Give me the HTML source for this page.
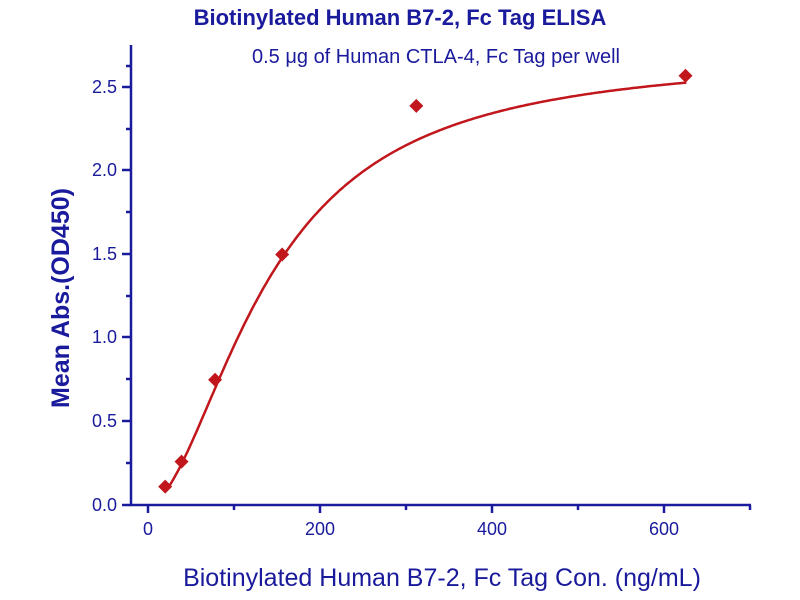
<!DOCTYPE html>
<html><head><style>body{margin:0;background:#fff}svg{display:block}</style></head>
<body>
<svg id="s" width="800" height="600" xmlns="http://www.w3.org/2000/svg" font-family="Liberation Sans, sans-serif">
<text x="400" y="25" text-anchor="middle" font-size="22" font-weight="bold" fill="#1a1a9c">Biotinylated Human B7-2, Fc Tag ELISA</text>
<text x="436" y="63" text-anchor="middle" font-size="20" fill="#1a1a9c">0.5 μg of Human CTLA-4, Fc Tag per well</text>
<g stroke="#1a1a9c" stroke-width="2.5" fill="none">
<path d="M131,45 V505 H751"/>
<path d="M122,505H131M122,421H131M122,337H131M122,254H131M122,170H131M122,87H131"/>
<path d="M126,463H131M126,379H131M126,296H131M126,212H131M126,129H131M126,66H131"/>
<path d="M148,505V513M320,505V513M492,505V513M664,505V513"/>
<path d="M234,505V510M406,505V510M578,505V510M750,505V510"/>
</g>
<g font-size="18" fill="#1a1a9c" text-anchor="end">
<text x="117" y="511">0.0</text><text x="117" y="427">0.5</text><text x="117" y="343">1.0</text>
<text x="117" y="260">1.5</text><text x="117" y="176">2.0</text><text x="117" y="93">2.5</text>
</g>
<g font-size="18" fill="#1a1a9c" text-anchor="middle">
<text x="148" y="535">0</text><text x="320" y="535">200</text><text x="492" y="535">400</text><text x="664" y="535">600</text>
</g>
<text x="442" y="586" text-anchor="middle" font-size="25" fill="#1a1a9c">Biotinylated Human B7-2, Fc Tag Con. (ng/mL)</text>
<text transform="translate(69,298) rotate(-90)" text-anchor="middle" font-size="25" font-weight="bold" fill="#1a1a9c">Mean Abs.(OD450)</text>
<path id="c" fill="none" stroke="#c0161c" stroke-width="2.5"/>
<g fill="#c0161c" id="pts"></g>
</svg>
<script>
var X=function(c){return 148+c*0.86},Y=function(v){return 505-v*167};
var d="";for(var c=20;c<=626;c+=2){var v=2.7/(1+Math.pow(140/c,1.8));d+=(d?"L":"M")+X(c).toFixed(1)+","+Y(v).toFixed(1);}
document.getElementById("c").setAttribute("d",d);
var P=[[20,0.11],[39,0.26],[78,0.75],[156,1.5],[312,2.39],[625,2.57]],g=document.getElementById("pts");
P.forEach(function(p){var x=X(p[0]),y=Y(p[1]);var e=document.createElementNS("http://www.w3.org/2000/svg","path");
e.setAttribute("d","M"+x+","+(y-7)+"L"+(x+7)+","+y+"L"+x+","+(y+7)+"L"+(x-7)+","+y+"Z");g.appendChild(e);});
</script>
</body></html>
